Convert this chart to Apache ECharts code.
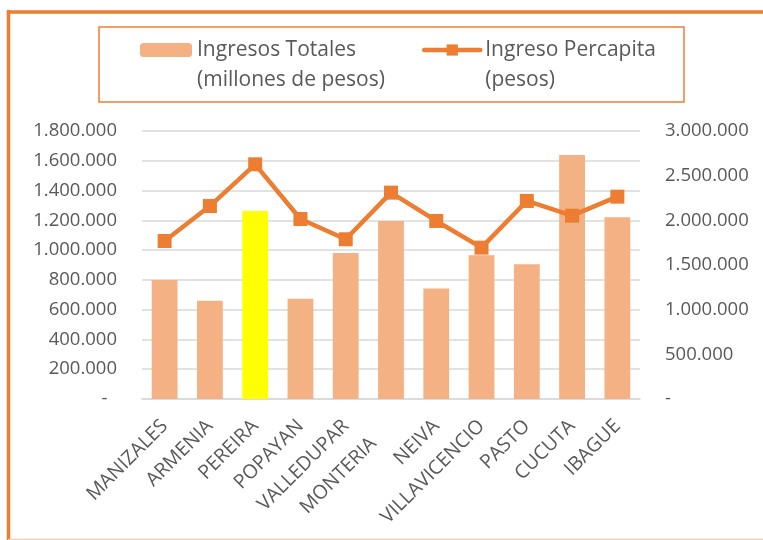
<!DOCTYPE html>
<html><head><meta charset="utf-8">
<script src="https://cdn.jsdelivr.net/npm/echarts@6/dist/echarts.min.js"></script>
<style>html,body{margin:0;padding:0;background:#fff}#c{width:763px;height:540px}</style>
</head><body><div id="c"></div>
<script>
const categories = ['MANIZALES','ARMENIA','PEREIRA','POPAYAN','VALLEDUPAR','MONTERIA','NEIVA','VILLAVICENCIO','PASTO','CUCUTA','IBAGUE'];
const ingresosTotales = [800000, 660000, 1262000, 674000, 980000, 1195000, 743000, 965000, 905000, 1639000, 1220000];
const ingresoPercapita = [1769000, 2160000, 2627000, 2015000, 1788000, 2310000, 1993000, 1694000, 2217000, 2052000, 2265000];
const leftTicks = {min: 0, max: 1800000, interval: 200000};
const rightTicks = {min: 0, max: 3000000, interval: 500000};
const highlightCategory = 'PEREIRA';
const shiftedLabel = 'MONTERIA';
const barName = 'Ingresos Totales\n(millones de pesos)';
const lineName = 'Ingreso Percapita\n(pesos)';

const FONT = 'Open Sans';
const TXT = '#595959';
function fmt(v){ if (v === 0) return '-'; return String(v).replace(/\B(?=(\d{3})+(?!\d))/g, '.'); }

const chart = echarts.init(document.getElementById('c'), null, {renderer: 'canvas'});
const legendText = {color: TXT, fontSize: 21, fontFamily: FONT, lineHeight: 30};
const catFont = {color: TXT, fontSize: 19.5, fontFamily: FONT};
chart.setOption({
  animation: false,
  backgroundColor: '#fff',
  textStyle: {fontFamily: FONT},
  graphic: [
    {type: 'line', shape: {x1: 8.5, y1: 12, x2: 763, y2: 12}, style: {stroke: '#ED7D31', lineWidth: 3.5}},
    {type: 'line', shape: {x1: 8.5, y1: 10, x2: 8.5, y2: 540}, style: {stroke: '#ED7D31', lineWidth: 3.5}},
    {type: 'line', shape: {x1: 8, y1: 539.5, x2: 763, y2: 539.5}, style: {stroke: '#F8CBAD', lineWidth: 1.5}},
    {type: 'rect', shape: {x: 99, y: 27, width: 585, height: 75}, style: {fill: 'none', stroke: '#ED7D31', lineWidth: 1.5}}
  ],
  legend: [
    {data: [barName], left: 140, top: 5, itemWidth: 52, itemHeight: 14, itemGap: 5, selectedMode: false,
     textStyle: legendText, padding: 0, formatter: n => ' \n' + n},
    {data: [lineName], left: 422, top: 5, itemWidth: 56, itemHeight: 14, itemGap: 5, selectedMode: false,
     lineStyle: {width: 4.5, cap: 'round'},
     textStyle: legendText, padding: 0, formatter: n => ' \n' + n}
  ],
  grid: {left: 142, right: 123, top: 131, bottom: 141, containLabel: false},
  xAxis: {
    type: 'category', data: categories,
    axisLine: {lineStyle: {color: '#D9D9D9', width: 1.5}},
    axisTick: {show: false},
    axisLabel: {interval: 0, rotate: 45, margin: 24, ...catFont,
      formatter: v => v === shiftedLabel ? '{s|' + v + '}' : v,
      rich: {s: {...catFont, padding: [0, 25, 0, 0]}}}
  },
  yAxis: [
    {type: 'value', min: leftTicks.min, max: leftTicks.max, interval: leftTicks.interval,
     axisLine: {show: false}, axisTick: {show: false},
     splitLine: {lineStyle: {color: '#D9D9D9', width: 1.5}},
     axisLabel: {color: TXT, fontSize: 18.5, fontFamily: FONT, margin: 25, formatter: v => v === 0 ? '-  ' : fmt(v)}},
    {type: 'value', min: rightTicks.min, max: rightTicks.max, interval: rightTicks.interval,
     axisLine: {show: false}, axisTick: {show: false}, splitLine: {show: false},
     axisLabel: {color: TXT, fontSize: 18.5, fontFamily: FONT, margin: 25, formatter: fmt}}
  ],
  series: [
    {name: barName, type: 'bar', barCategoryGap: '43%',
     itemStyle: {color: '#F4B183'},
     data: ingresosTotales.map((v, i) => categories[i] === highlightCategory ? {value: v, itemStyle: {color: '#FFFF00'}} : v)},
    {name: lineName, type: 'line', yAxisIndex: 1, symbol: 'rect', symbolSize: 14,
     lineStyle: {color: '#ED7D31', width: 4.5}, itemStyle: {color: '#ED7D31'},
     data: ingresoPercapita}
  ]
});
</script></body></html>
